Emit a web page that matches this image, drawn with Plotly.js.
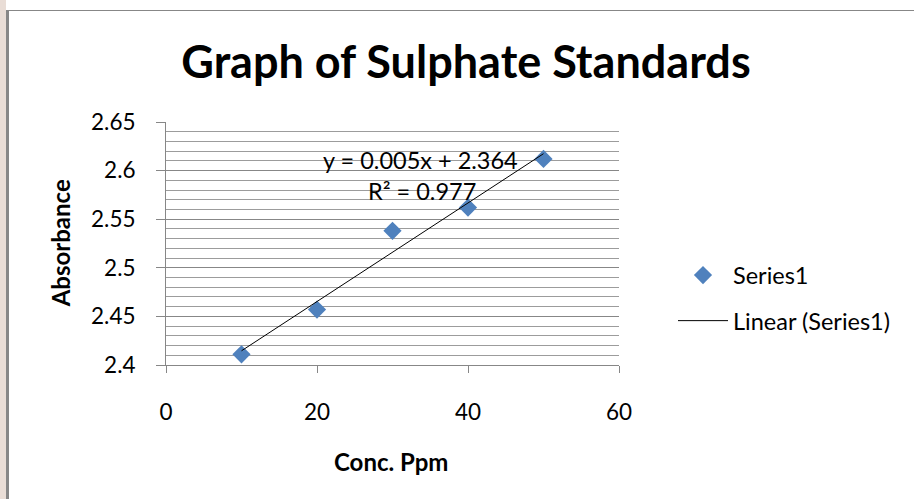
<!DOCTYPE html>
<html>
<head>
<meta charset="utf-8">
<script src="https://cdn.plot.ly/plotly-3.0.1.min.js"></script>
<style>
  html, body { margin: 0; padding: 0; background: #ffffff; }
  #chart { width: 914px; height: 499px; position: absolute; left: 0; top: 0; }
  #strip { position: absolute; left: 0; top: 0; width: 6px; height: 499px; background: #e9ddd6; }
  #frame { position: absolute; left: 6px; top: 10px; width: 920px; height: 500px;
           border-left: 3px solid #878787; border-top: 1px solid #878787; pointer-events: none; }
</style>
</head>
<body>
<div id="chart"></div>
<div id="strip"></div>
<div id="frame"></div>
<script>
// Data
const concPpm = [10, 20, 30, 40, 50];
const absorbance = [2.411, 2.457, 2.538, 2.562, 2.612];
const xTicks = [0, 20, 40, 60];
const yTicks = [2.4, 2.45, 2.5, 2.55, 2.6, 2.65];
const yTickText = ['2.4', '2.45', '2.5', '2.55', '2.6', '2.65'];

// Least-squares linear trendline from the data
const n = concPpm.length;
const mx = concPpm.reduce((a, b) => a + b, 0) / n;
const my = absorbance.reduce((a, b) => a + b, 0) / n;
let sxy = 0, sxx = 0, syy = 0;
for (let i = 0; i < n; i++) {
  sxy += (concPpm[i] - mx) * (absorbance[i] - my);
  sxx += (concPpm[i] - mx) ** 2;
  syy += (absorbance[i] - my) ** 2;
}
const slope = sxy / sxx;
const intercept = my - slope * mx;
const r2 = (sxy * sxy) / (sxx * syy);
const trendX = [Math.min(...concPpm), Math.max(...concPpm)];
const trendY = trendX.map(x => slope * x + intercept);

const FONT = 'Lato, "Open Sans", sans-serif';
const GRID = '#878787';

const traces = [
  {
    x: concPpm, y: absorbance, type: 'scatter', mode: 'markers', name: 'Series1',
    legendgroup: 'a',
    marker: { symbol: 'diamond', size: 14, color: '#4f81bd' },
    hoverinfo: 'x+y'
  },
  {
    x: trendX, y: trendY, type: 'scatter', mode: 'lines', name: 'Linear (Series1)',
    legendgroup: 'b',
    line: { color: '#000000', width: 1 },
    hoverinfo: 'skip'
  }
];

const layout = {
  width: 914, height: 499,
  paper_bgcolor: 'rgba(0,0,0,0)', plot_bgcolor: '#ffffff',
  margin: { l: 166, r: 295, t: 122, b: 134 },
  font: { family: FONT, color: '#000000', size: 22 },
  title: {
    text: '<b>Graph of Sulphate Standards</b>',
    font: { family: FONT, size: 45, color: '#000000' },
    x: 466 / 914, xanchor: 'center', xref: 'container',
    y: 1 - 62 / 499, yanchor: 'middle', yref: 'container'
  },
  xaxis: {
    range: [0, 60], tickvals: xTicks, ticktext: xTicks.map(String),
    showgrid: false, zeroline: false,
    showline: true, linecolor: GRID, linewidth: 1,
    ticks: 'outside', ticklen: 7, tickcolor: GRID,
    ticklabelstandoff: 20,
    tickfont: { family: FONT, size: 22.5 }
  },
  yaxis: {
    range: [2.4, 2.65], tickvals: yTicks, ticktext: yTickText,
    showgrid: true, gridcolor: GRID, gridwidth: 1, zeroline: false,
    showline: true, linecolor: GRID, linewidth: 1,
    ticks: 'outside', ticklen: 9, tickcolor: GRID,
    ticklabelstandoff: 16,
    tickfont: { family: FONT, size: 22.5 },
    minor: { dtick: 0.01, tick0: 2.4, showgrid: true, gridcolor: '#9c9c9c', gridwidth: 1, ticks: '' }
  },
  showlegend: true,
  legend: {
    x: (673 - 166) / 453, xanchor: 'left',
    y: (364.7 - 253) / 243, yanchor: 'top',
    bgcolor: 'rgba(0,0,0,0)',
    font: { family: FONT, size: 23.5 },
    traceorder: 'grouped', tracegroupgap: 12,
    itemwidth: 50
  },
  annotations: [
    {
      text: 'y = ' + slope.toFixed(3) + 'x + ' + intercept.toFixed(3),
      xref: 'paper', yref: 'paper',
      x: (420 - 166) / 453, y: (364.7 - 160) / 243,
      xanchor: 'center', yanchor: 'middle', showarrow: false,
      font: { family: FONT, size: 23.5 }
    },
    {
      text: 'R² = ' + r2.toFixed(3),
      xref: 'paper', yref: 'paper',
      x: (422 - 166) / 453, y: (364.7 - 191) / 243,
      xanchor: 'center', yanchor: 'middle', showarrow: false,
      font: { family: FONT, size: 23.5 }
    },
    {
      text: '<b>Absorbance</b>',
      xref: 'paper', yref: 'paper',
      x: (60 - 166) / 453, y: (364.7 - 243) / 243,
      xanchor: 'center', yanchor: 'middle', textangle: -90, showarrow: false,
      font: { family: FONT, size: 24 }
    },
    {
      text: '<b>Conc. Ppm</b>',
      xref: 'paper', yref: 'paper',
      x: (391 - 166) / 453, y: (364.7 - 461) / 243,
      xanchor: 'center', yanchor: 'middle', showarrow: false,
      font: { family: FONT, size: 24 }
    }
  ]
};

Plotly.newPlot('chart', traces, layout, { displayModeBar: false, staticPlot: true });
</script>
</body>
</html>
